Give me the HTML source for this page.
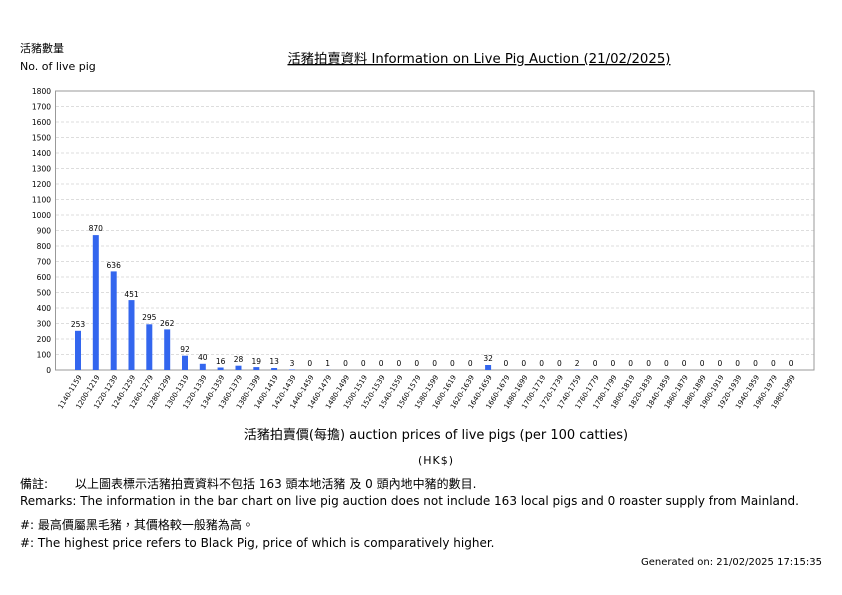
<!DOCTYPE html>
<html><head><meta charset="utf-8"><style>
body{margin:0;background:#fff;width:842px;height:595px;overflow:hidden}
svg{display:block;font-family:"DejaVu Sans","Noto Sans CJK TC",sans-serif}
</style></head><body>
<svg width="842" height="595" viewBox="0 0 842 595">
<g font-size="11" fill="#000">
<text x="20" y="52">活豬數量</text>
<text x="20" y="70">No. of live pig</text>
<text x="479" y="63" text-anchor="middle" font-size="13.3" text-decoration="underline">活豬拍賣資料 Information on Live Pig Auction (21/02/2025)</text>
</g>
<g stroke="#ddd" stroke-dasharray="3,2" stroke-width="1">
<line x1="56" x2="814" y1="354.5" y2="354.5"/><line x1="56" x2="814" y1="339" y2="339"/><line x1="56" x2="814" y1="323.5" y2="323.5"/><line x1="56" x2="814" y1="308" y2="308"/><line x1="56" x2="814" y1="292.5" y2="292.5"/><line x1="56" x2="814" y1="277" y2="277"/><line x1="56" x2="814" y1="261.5" y2="261.5"/><line x1="56" x2="814" y1="246" y2="246"/><line x1="56" x2="814" y1="230.5" y2="230.5"/><line x1="56" x2="814" y1="215" y2="215"/><line x1="56" x2="814" y1="199.5" y2="199.5"/><line x1="56" x2="814" y1="184" y2="184"/><line x1="56" x2="814" y1="168.5" y2="168.5"/><line x1="56" x2="814" y1="153" y2="153"/><line x1="56" x2="814" y1="137.5" y2="137.5"/><line x1="56" x2="814" y1="122" y2="122"/><line x1="56" x2="814" y1="106.5" y2="106.5"/>
</g>
<rect x="55.5" y="91" width="758.5" height="279" fill="none" stroke="#999"/>
<g font-size="7.5" text-anchor="end" fill="#000">
<text x="51" y="373">0</text><text x="51" y="357.5">100</text><text x="51" y="342">200</text><text x="51" y="326.5">300</text><text x="51" y="311">400</text><text x="51" y="295.5">500</text><text x="51" y="280">600</text><text x="51" y="264.5">700</text><text x="51" y="249">800</text><text x="51" y="233.5">900</text><text x="51" y="218">1000</text><text x="51" y="202.5">1100</text><text x="51" y="187">1200</text><text x="51" y="171.5">1300</text><text x="51" y="156">1400</text><text x="51" y="140.5">1500</text><text x="51" y="125">1600</text><text x="51" y="109.5">1700</text><text x="51" y="94">1800</text>
</g>
<g fill="#3366ee">
<rect x="75" y="330.8" width="6" height="39.2"/><rect x="92.8" y="235.1" width="6" height="134.9"/><rect x="110.7" y="271.4" width="6" height="98.6"/><rect x="128.5" y="300.1" width="6" height="69.9"/><rect x="146.3" y="324.3" width="6" height="45.7"/><rect x="164.2" y="329.4" width="6" height="40.6"/><rect x="182" y="355.7" width="6" height="14.3"/><rect x="199.8" y="363.8" width="6" height="6.2"/><rect x="217.6" y="367.5" width="6" height="2.5"/><rect x="235.5" y="365.7" width="6" height="4.3"/><rect x="253.3" y="367.1" width="6" height="2.9"/><rect x="271.1" y="368" width="6" height="2"/><rect x="289" y="369.5" width="6" height="0.5"/><rect x="324.6" y="369.8" width="6" height="0.2"/><rect x="485.1" y="365" width="6" height="5"/><rect x="574.2" y="369.7" width="6" height="0.3"/>
</g>
<g font-size="7.5" text-anchor="middle" fill="#000">
<text x="78" y="327">253</text><text x="95.8" y="231">870</text><text x="113.7" y="268">636</text><text x="131.5" y="297">451</text><text x="149.3" y="320">295</text><text x="167.2" y="326">262</text><text x="185" y="352">92</text><text x="202.8" y="360">40</text><text x="220.6" y="364">16</text><text x="238.5" y="362">28</text><text x="256.3" y="364">19</text><text x="274.1" y="364">13</text><text x="292" y="366">3</text><text x="309.8" y="366">0</text><text x="327.6" y="366">1</text><text x="345.5" y="366">0</text><text x="363.3" y="366">0</text><text x="381.1" y="366">0</text><text x="398.9" y="366">0</text><text x="416.8" y="366">0</text><text x="434.6" y="366">0</text><text x="452.4" y="366">0</text><text x="470.3" y="366">0</text><text x="488.1" y="361">32</text><text x="505.9" y="366">0</text><text x="523.8" y="366">0</text><text x="541.6" y="366">0</text><text x="559.4" y="366">0</text><text x="577.2" y="366">2</text><text x="595.1" y="366">0</text><text x="612.9" y="366">0</text><text x="630.7" y="366">0</text><text x="648.6" y="366">0</text><text x="666.4" y="366">0</text><text x="684.2" y="366">0</text><text x="702.1" y="366">0</text><text x="719.9" y="366">0</text><text x="737.7" y="366">0</text><text x="755.5" y="366">0</text><text x="773.4" y="366">0</text><text x="791.2" y="366">0</text>
</g>
<g font-size="7" text-anchor="end" fill="#000">
<text transform="translate(82,377) rotate(-58)">1140-1159</text><text transform="translate(99.8,377) rotate(-58)">1200-1219</text><text transform="translate(117.7,377) rotate(-58)">1220-1239</text><text transform="translate(135.5,377) rotate(-58)">1240-1259</text><text transform="translate(153.3,377) rotate(-58)">1260-1279</text><text transform="translate(171.2,377) rotate(-58)">1280-1299</text><text transform="translate(189,377) rotate(-58)">1300-1319</text><text transform="translate(206.8,377) rotate(-58)">1320-1339</text><text transform="translate(224.6,377) rotate(-58)">1340-1359</text><text transform="translate(242.5,377) rotate(-58)">1360-1379</text><text transform="translate(260.3,377) rotate(-58)">1380-1399</text><text transform="translate(278.1,377) rotate(-58)">1400-1419</text><text transform="translate(296,377) rotate(-58)">1420-1439</text><text transform="translate(313.8,377) rotate(-58)">1440-1459</text><text transform="translate(331.6,377) rotate(-58)">1460-1479</text><text transform="translate(349.5,377) rotate(-58)">1480-1499</text><text transform="translate(367.3,377) rotate(-58)">1500-1519</text><text transform="translate(385.1,377) rotate(-58)">1520-1539</text><text transform="translate(402.9,377) rotate(-58)">1540-1559</text><text transform="translate(420.8,377) rotate(-58)">1560-1579</text><text transform="translate(438.6,377) rotate(-58)">1580-1599</text><text transform="translate(456.4,377) rotate(-58)">1600-1619</text><text transform="translate(474.3,377) rotate(-58)">1620-1639</text><text transform="translate(492.1,377) rotate(-58)">1640-1659</text><text transform="translate(509.9,377) rotate(-58)">1660-1679</text><text transform="translate(527.8,377) rotate(-58)">1680-1699</text><text transform="translate(545.6,377) rotate(-58)">1700-1719</text><text transform="translate(563.4,377) rotate(-58)">1720-1739</text><text transform="translate(581.2,377) rotate(-58)">1740-1759</text><text transform="translate(599.1,377) rotate(-58)">1760-1779</text><text transform="translate(616.9,377) rotate(-58)">1780-1799</text><text transform="translate(634.7,377) rotate(-58)">1800-1819</text><text transform="translate(652.6,377) rotate(-58)">1820-1839</text><text transform="translate(670.4,377) rotate(-58)">1840-1859</text><text transform="translate(688.2,377) rotate(-58)">1860-1879</text><text transform="translate(706.1,377) rotate(-58)">1880-1899</text><text transform="translate(723.9,377) rotate(-58)">1900-1919</text><text transform="translate(741.7,377) rotate(-58)">1920-1939</text><text transform="translate(759.5,377) rotate(-58)">1940-1959</text><text transform="translate(777.4,377) rotate(-58)">1960-1979</text><text transform="translate(795.2,377) rotate(-58)">1980-1999</text>
</g>
<g font-size="12" fill="#000">
<text x="436" y="439" text-anchor="middle" font-size="13">活豬拍賣價(每擔) auction prices of live pigs (per 100 catties)</text>
<text x="436" y="464" text-anchor="middle" font-size="11" letter-spacing="1">(HK$)</text>
<text x="20" y="488">備註:</text>
<text x="75" y="488">以上圖表標示活豬拍賣資料不包括 163 頭本地活豬 及 0 頭內地中豬的數目.</text>
<text x="20" y="505">Remarks: The information in the bar chart on live pig auction does not include 163 local pigs and 0 roaster supply from Mainland.</text>
<text x="20" y="529">#: 最高價屬黑毛豬，其價格較一般豬為高。</text>
<text x="20" y="547">#: The highest price refers to Black Pig, price of which is comparatively higher.</text>
<text x="822" y="565" text-anchor="end" font-size="10">Generated on: 21/02/2025 17:15:35</text>
</g>
</svg>
</body></html>
